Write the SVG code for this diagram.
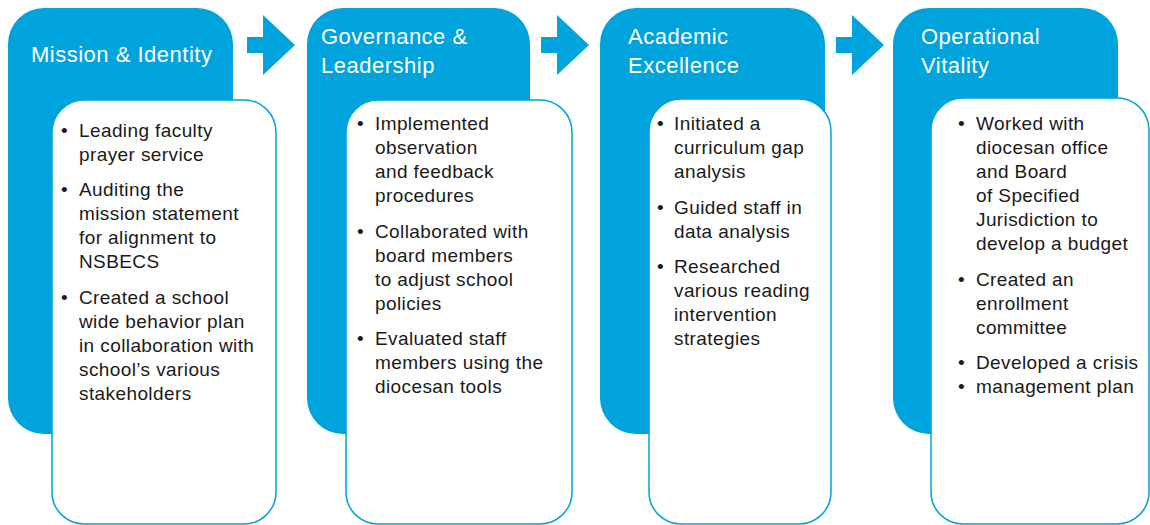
<svg xmlns="http://www.w3.org/2000/svg" width="1150" height="525" viewBox="0 0 1150 525">
<style>
.blue{fill:#00A3DC}
.card{fill:#ffffff;stroke:#00A3DC;stroke-width:1.5}
.head{font-family:"Liberation Sans",Arial,sans-serif;font-size:22px;fill:#ffffff;letter-spacing:0.5px}
.body{font-family:"Liberation Sans",Arial,sans-serif;font-size:19px;fill:#1a1a1a;letter-spacing:0.4px}
</style>
<rect width="1150" height="525" fill="#ffffff"/>
<g id="connectors">
<polygon class="blue" points="247,37 263,37 263,15 295,45 263,75 263,53 247,53"/>
<polygon class="blue" points="541,37 557,37 557,15 589,45 557,75 557,53 541,53"/>
<polygon class="blue" points="836,37 852,37 852,15 884,45 852,75 852,53 836,53"/>
</g>
<g id="mission">
<rect class="blue" x="8" y="8" width="225" height="426" rx="36"/>
<rect class="card" x="52" y="100" width="224" height="424" rx="32"/>
<text class="head" x="31" y="62">Mission &amp; Identity</text>
<text class="body">
<tspan x="61" y="137">•</tspan><tspan x="79" y="137">Leading faculty</tspan>
<tspan x="79" y="161">prayer service</tspan>
<tspan x="61" y="196">•</tspan><tspan x="79" y="196">Auditing the</tspan>
<tspan x="79" y="220">mission statement</tspan>
<tspan x="79" y="244">for alignment to</tspan>
<tspan x="79" y="268">NSBECS</tspan>
<tspan x="61" y="304">•</tspan><tspan x="79" y="304">Created a school</tspan>
<tspan x="79" y="328">wide behavior plan</tspan>
<tspan x="79" y="352">in collaboration with</tspan>
<tspan x="79" y="376">school’s various</tspan>
<tspan x="79" y="400">stakeholders</tspan>
</text>
</g>
<g id="governance">
<rect class="blue" x="307" y="8" width="223" height="426" rx="36"/>
<rect class="card" x="346" y="100" width="226" height="424" rx="32"/>
<text class="head"><tspan x="321" y="44">Governance &amp;</tspan><tspan x="321" y="73">Leadership</tspan></text>
<text class="body">
<tspan x="357" y="130">•</tspan><tspan x="375" y="130">Implemented</tspan>
<tspan x="375" y="154">observation</tspan>
<tspan x="375" y="178">and feedback</tspan>
<tspan x="375" y="202">procedures</tspan>
<tspan x="357" y="238">•</tspan><tspan x="375" y="238">Collaborated with</tspan>
<tspan x="375" y="262">board members</tspan>
<tspan x="375" y="286">to adjust school</tspan>
<tspan x="375" y="310">policies</tspan>
<tspan x="357" y="345">•</tspan><tspan x="375" y="345">Evaluated staff</tspan>
<tspan x="375" y="369">members using the</tspan>
<tspan x="375" y="393">diocesan tools</tspan>
</text>
</g>
<g id="academic">
<rect class="blue" x="600" y="8" width="225" height="426" rx="36"/>
<rect class="card" x="649" y="99" width="182" height="425" rx="32"/>
<text class="head"><tspan x="628" y="44">Academic</tspan><tspan x="628" y="73">Excellence</tspan></text>
<text class="body">
<tspan x="657" y="130">•</tspan><tspan x="674" y="130">Initiated a</tspan>
<tspan x="674" y="154">curriculum gap</tspan>
<tspan x="674" y="178">analysis</tspan>
<tspan x="657" y="214">•</tspan><tspan x="674" y="214">Guided staff in</tspan>
<tspan x="674" y="238">data analysis</tspan>
<tspan x="657" y="273">•</tspan><tspan x="674" y="273">Researched</tspan>
<tspan x="674" y="297">various reading</tspan>
<tspan x="674" y="321">intervention</tspan>
<tspan x="674" y="345">strategies</tspan>
</text>
</g>
<g id="operational">
<rect class="blue" x="893" y="8" width="225" height="426" rx="36"/>
<rect class="card" x="931" y="98" width="218" height="426" rx="32"/>
<text class="head"><tspan x="921" y="44">Operational</tspan><tspan x="921" y="73">Vitality</tspan></text>
<text class="body">
<tspan x="958" y="130">•</tspan><tspan x="976" y="130">Worked with</tspan>
<tspan x="976" y="154">diocesan office</tspan>
<tspan x="976" y="178">and Board</tspan>
<tspan x="976" y="202">of Specified</tspan>
<tspan x="976" y="226">Jurisdiction to</tspan>
<tspan x="976" y="250">develop a budget</tspan>
<tspan x="958" y="286">•</tspan><tspan x="976" y="286">Created an</tspan>
<tspan x="976" y="310">enrollment</tspan>
<tspan x="976" y="334">committee</tspan>
<tspan x="958" y="369">•</tspan><tspan x="976" y="369">Developed a crisis</tspan>
<tspan x="958" y="393">•</tspan><tspan x="976" y="393">management plan</tspan>
</text>
</g>
</svg>
